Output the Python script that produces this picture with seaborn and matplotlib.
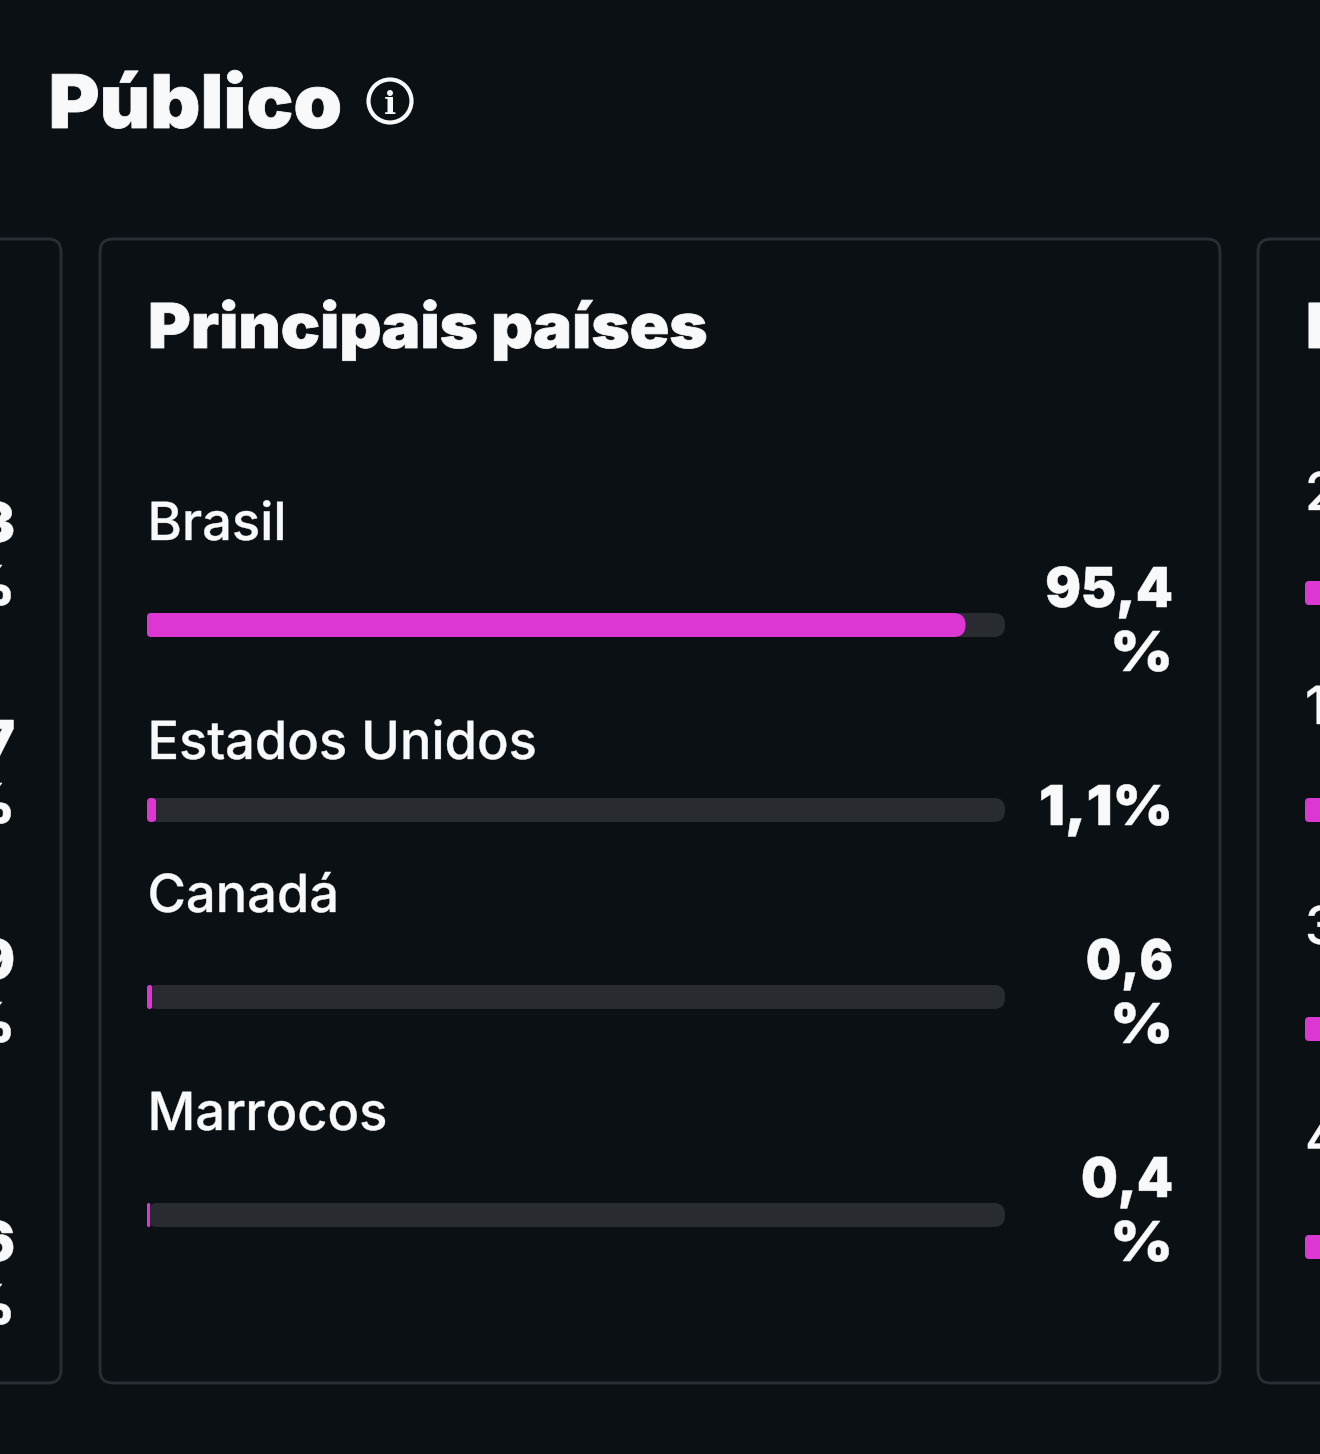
import matplotlib
matplotlib.use("Agg")
import matplotlib.pyplot as plt
import seaborn as sns
from matplotlib.patches import Circle, FancyBboxPatch, PathPatch
from matplotlib.path import Path
from matplotlib.patheffects import AbstractPathEffect
from matplotlib.transforms import Affine2D

# Chart content
section_title = "Público"
card_title = "Principais países"
countries = ["Brasil", "Estados Unidos", "Canadá", "Marrocos"]
shares = [95.4, 1.1, 0.6, 0.4]
share_labels = [["95,4", "%"], ["1,1%"], ["0,6", "%"], ["0,4", "%"]]
left_card_digits = ["3", "7", "9", "6"]
right_card_digits = ["2", "1", "3", "4"]
right_card_shares = [30.0, 20.0, 12.0, 8.0]
TRACK_MAX = 100.0

# Page geometry in pixels
W, H = 1320, 1454
BG, BORDER, TRACK = "#0b1014", "#2a2d33", "#282b30"
PINK, INK = "#dc37d3", "#f8f9fa"

sns.set_theme(style="dark", rc={"figure.facecolor": BG, "axes.facecolor": "none"})
plt.rcParams["font.family"] = ["Inter", "DejaVu Sans"]

fig = plt.figure(figsize=(W / 100, H / 100), dpi=100)
page = fig.add_axes([0, 0, 1, 1], zorder=0)
page.set_xlim(0, W)
page.set_ylim(H, 0)
page.axis("off")


class Widen(AbstractPathEffect):
    """Stretch glyphs horizontally about an anchor and thicken their strokes."""

    def __init__(self, anchor, factor=1.0, stroke=0.0):
        super().__init__()
        self.anchor, self.factor, self.stroke = anchor, factor, stroke

    def draw_path(self, renderer, gc, tpath, affine, rgbFace):
        stretched = affine + Affine2D().translate(-self.anchor, 0).scale(self.factor, 1).translate(self.anchor, 0)
        gc0 = renderer.new_gc()
        gc0.copy_properties(gc)
        gc0.set_linewidth(self.stroke)
        gc0.set_foreground(rgbFace)
        gc0.set_joinstyle("round")
        renderer.draw_path(gc0, tpath, stretched, rgbFace)
        gc0.restore()


def rounded_bar_path(x0, x1, y0, y1, r_left, r_right):
    """Closed outline in page pixels, with separate corner radii per side."""
    verts = [
        (x0 + r_left, y0), (x1 - r_right, y0), (x1, y0), (x1, y0 + r_right),
        (x1, y1 - r_right), (x1, y1), (x1 - r_right, y1),
        (x0 + r_left, y1), (x0, y1), (x0, y1 - r_left),
        (x0, y0 + r_left), (x0, y0), (x0 + r_left, y0), (x0 + r_left, y0),
    ]
    codes = [Path.MOVETO, Path.LINETO, Path.CURVE3, Path.CURVE3,
             Path.LINETO, Path.CURVE3, Path.CURVE3,
             Path.LINETO, Path.CURVE3, Path.CURVE3,
             Path.LINETO, Path.CURVE3, Path.CURVE3, Path.CLOSEPOLY]
    return Path(verts, codes)


def soften_bar(ax, bar, r_left, r_right):
    """Round a seaborn bar by clipping it to an outline of the same extent."""
    (x0, y0), (x1, y1) = ax.transData.transform(
        [(bar.get_x(), bar.get_y()), (bar.get_x() + bar.get_width(), bar.get_y() + bar.get_height())]
    )
    (px0, py0), (px1, py1) = page.transData.inverted().transform([(x0, y0), (x1, y1)])
    py0, py1 = min(py0, py1), max(py0, py1)
    r_r = min(r_right, (px1 - px0) / 2)
    r_l = min(r_left, (px1 - px0) / 2)
    outline = PathPatch(rounded_bar_path(px0, px1, py0, py1, r_l, r_r), transform=page.transData)
    bar.set_clip_path(outline)


def bar_row(name, value, left, centre, with_track=True):
    """One horizontal track-and-fill bar on its own 0-100 axis."""
    box = [left / W, 1 - (centre + 12) / H, 858 / W, 24 / H]
    ax = fig.add_axes(box, zorder=1)
    if with_track:
        sns.barplot(x=[TRACK_MAX], y=[name], color=TRACK, width=1, saturation=1, linewidth=0, ax=ax)
    sns.barplot(x=[value], y=[name], color=PINK, width=1, saturation=1, linewidth=0, ax=ax)
    ax.set_xlim(0, TRACK_MAX)
    ax.set_ylim(0.5, -0.5)
    ax.axis("off")
    for bar in ax.patches:
        bar.set_edgecolor("none")
        if bar.get_width() >= TRACK_MAX:
            soften_bar(ax, bar, 10, 11)
        else:
            soften_bar(ax, bar, 4, 12)
    return ax


def card(x0, x1):
    page.add_patch(FancyBboxPatch((x0, 239), x1 - x0, 1144, boxstyle="round,pad=0,rounding_size=13",
                                  fc="none", ec=BORDER, lw=2.1))


def label(x, y, s, size, weight="normal", ha="left", factor=1.0, stroke=0.0):
    page.text(x, y, s, fontsize=size * 0.72, fontweight=weight, color=INK, ha=ha, va="baseline",
              path_effects=[Widen(x, factor, stroke)])


# Neighbouring cards, cut off by the page edges
card(-200, 61)
card(100, 1220)
card(1258, 1600)

# Heading and info icon
label(48.5, 128, section_title, 74, "black", factor=1.052, stroke=0.6)
page.add_patch(Circle((390, 101), 21.5, fc="none", ec=INK, lw=3.0))
page.text(390, 114, "i", fontsize=23, fontweight="bold", family="DejaVu Serif", color=INK, ha="center", va="baseline")

# Main card
label(148, 348, card_title, 62, "black", factor=1.052, stroke=0.6)
name_baselines = [540, 759, 912, 1130]
bar_centres = [625, 810, 997, 1215]
value_baselines = [[607, 671], [825], [979, 1043], [1197, 1261]]
value_widths = [[0.96, 1.09], [1.05], [0.9, 1.09], [0.935, 1.09]]
for name, value, texts, base, centre, bases, widths in zip(
    countries, shares, share_labels, name_baselines, bar_centres, value_baselines, value_widths
):
    label(147.5, base, name, 52.5, "medium", factor=0.998, stroke=0.3)
    bar_row(name, value, 147, centre)
    for s, b, f in zip(texts, bases, widths):
        label(1173, b, s, 55, "black", ha="right", factor=f, stroke=0.4)

# Clipped right-hand ends of the card to the left
left_bases = [(542, 605), (760, 823), (979, 1042), (1261, 1324)]
for digit, (b1, b2) in zip(left_card_digits, left_bases):
    label(15, b1, digit, 55, "black", ha="right", stroke=0.4)
    label(15, b2, "%", 55, "black", ha="right", factor=1.09, stroke=0.4)

# Clipped left-hand start of the card to the right
label(1306, 348, "P", 62, "black", stroke=0.6)
right_name_bases = [510, 724, 944, 1156]
right_bar_centres = [593, 810, 1029, 1247]
for digit, value, base, centre in zip(right_card_digits, right_card_shares, right_name_bases, right_bar_centres):
    label(1305, base, digit, 52.5, "medium", stroke=0.3)
    bar_row(digit, value, 1305, centre, with_track=False)

fig.savefig("out.png", dpi=100, facecolor=BG)
